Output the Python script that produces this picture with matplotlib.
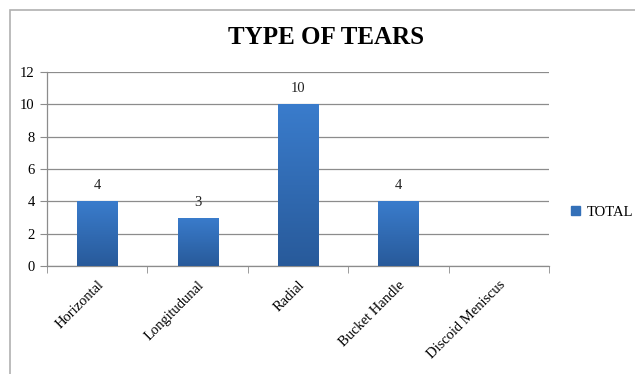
import numpy as np
import matplotlib
matplotlib.use("Agg")
import matplotlib.pyplot as plt
from matplotlib.colors import LinearSegmentedColormap
from matplotlib.patches import Rectangle

categories = ["Horizontal", "Longitudunal", "Radial", "Bucket Handle", "Discoid Meniscus"]
totals = [4, 3, 10, 4, 0]
yticks = [0, 2, 4, 6, 8, 10, 12]
title = "TYPE OF TEARS"
series_name = "TOTAL"

plt.rcParams['font.family'] = ['Liberation Serif', 'DejaVu Serif']

fig = plt.figure(figsize=(6.35, 3.74), dpi=100)
fig.patch.set_facecolor("white")
# outer border
fig.patches.append(Rectangle((10/635, -0.05), 1.0, 1 - 10/374 + 0.05, transform=fig.transFigure,
                             fill=False, edgecolor="#b0b0b0", linewidth=1.2, zorder=0))

ax = fig.add_axes([47/635, 1 - 266/374, (549 - 47)/635, (266 - 72)/374])
x = np.arange(len(categories))
bars = ax.bar(x, totals, width=0.4, color="#3370b8", zorder=3)

cmap = LinearSegmentedColormap.from_list("g", ["#285a9a", "#3a7ccc"])
grad = np.linspace(0, 1, 256).reshape(-1, 1)
for b in bars:
    h = b.get_height()
    if h <= 0:
        continue
    x0 = b.get_x()
    w = b.get_width()
    im = ax.imshow(grad, extent=[x0, x0 + w, 0, h], origin="lower", cmap=cmap,
                   aspect="auto", zorder=4)
    im.set_clip_path(b)
    ax.text(x0 + w / 2, h + 0.55, str(h), ha="center", va="bottom", fontsize=10.5,
            color="#222222", zorder=5)

ax.set_xlim(-0.5, len(categories) - 0.5)
ax.set_ylim(0, 12)
ax.set_yticks(yticks)
ax.set_yticklabels([str(t) for t in yticks], fontsize=10.5)
ax.yaxis.grid(True, color="#8c8c8c", linewidth=0.9, zorder=0)
ax.set_axisbelow(True)

ax.set_xticks(x)
ax.set_xticklabels(categories, rotation=45, ha="right", rotation_mode="anchor", fontsize=10.5)
ax.set_xticks(np.arange(-0.5, len(categories)), minor=True)
ax.tick_params(axis="x", which="major", length=0, pad=9)
ax.tick_params(axis="x", which="minor", length=5, color="#8c8c8c", direction="out")
ax.tick_params(axis="y", length=5, color="#8c8c8c", direction="out", pad=4)

for s in ["top", "right"]:
    ax.spines[s].set_visible(False)
for s in ["left", "bottom"]:
    ax.spines[s].set_color("#8c8c8c")
    ax.spines[s].set_linewidth(0.9)

fig.text(326/635, 1 - 37/374, title, ha="center", va="center", fontsize=18,
         fontweight="bold", color="black")

leg = fig.legend([Rectangle((0, 0), 1, 1, color="#3370b8")], [series_name],
                 loc="center left", bbox_to_anchor=(571/635, 1 - 212/374),
                 frameon=False, fontsize=10.5, handlelength=0.65, handleheight=0.65,
                 handletextpad=0.45, borderpad=0, borderaxespad=0)

fig.savefig("out.png", dpi=100)
